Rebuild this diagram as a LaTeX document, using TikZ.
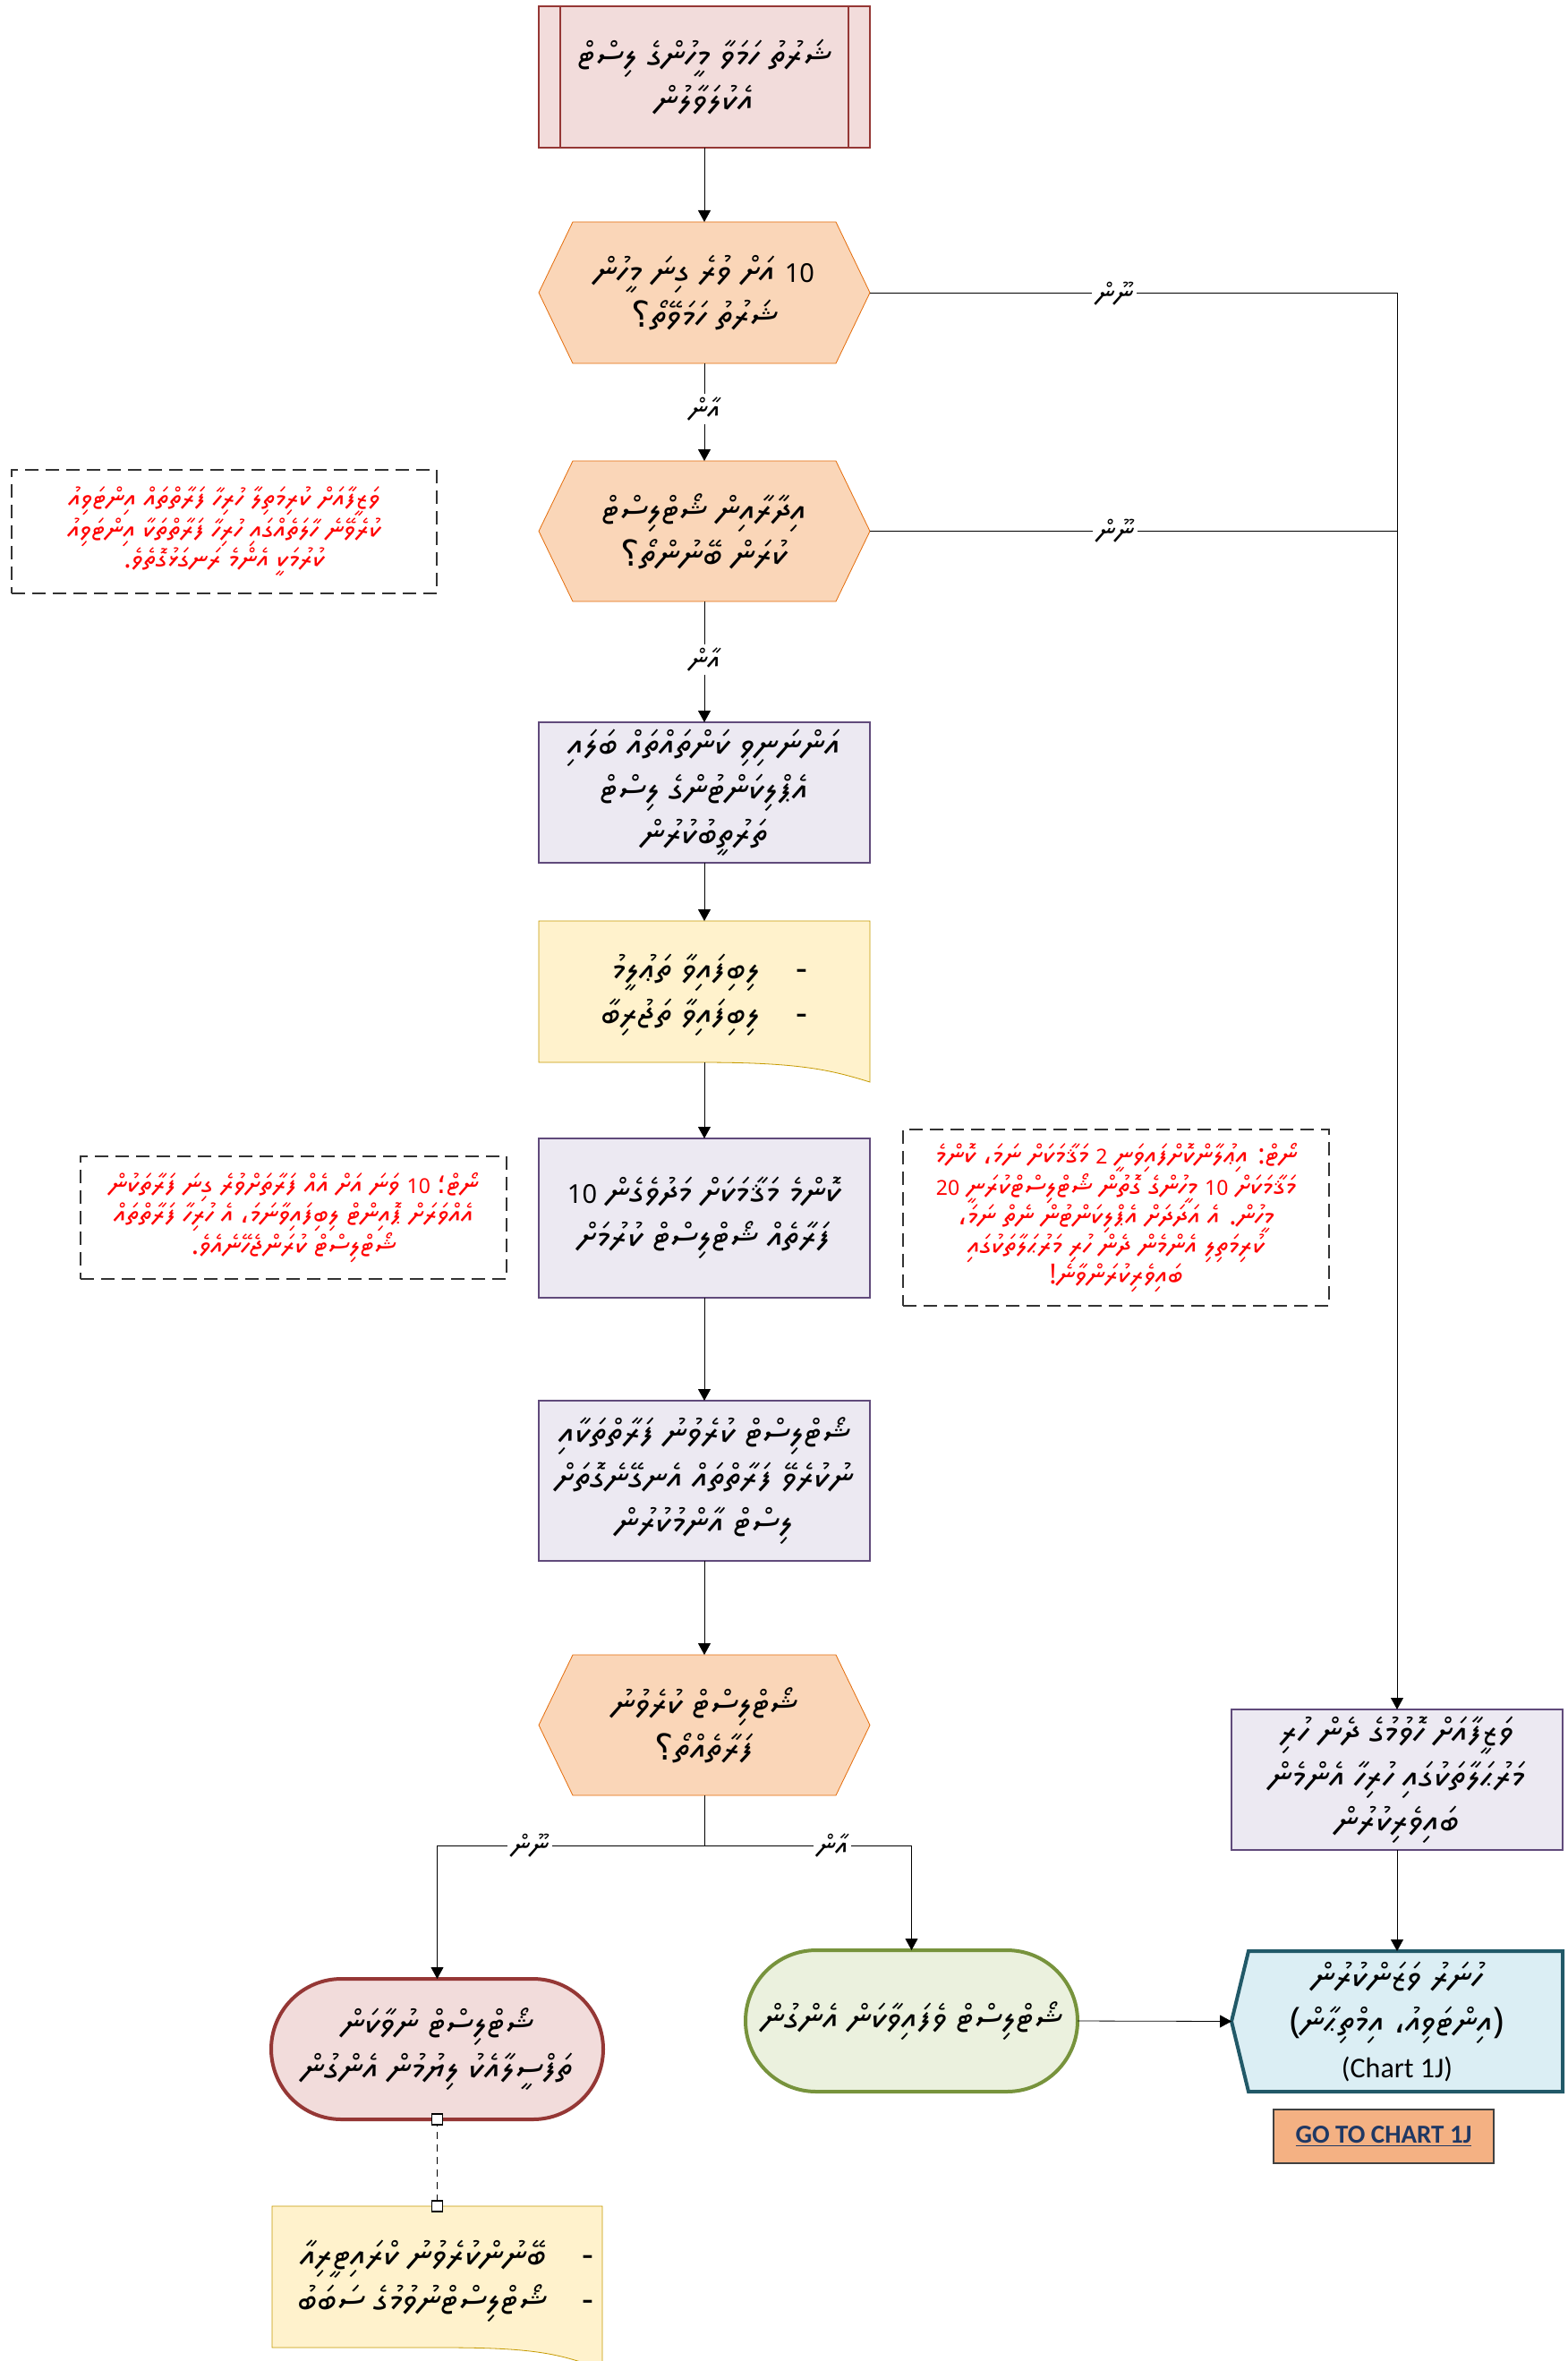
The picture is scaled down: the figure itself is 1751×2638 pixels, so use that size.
\documentclass[tikz,border=0pt]{standalone}
\usepackage{fontspec}
\usetikzlibrary{arrows.meta,shapes.misc,calc}
\TeXXeTstate=1
\IfFontExistsTF{FreeSerif.otf}
 {\newfontfamily\tf{FreeSerif.otf}}
 {\IfFontExistsTF{Noto Sans Thaana}
   {\newfontfamily\tf{Noto Sans Thaana}}
   {\newfontfamily\tf{DejaVu Sans}}}
\newfontfamily\arf{DejaVu Sans}
\newfontfamily\carl{Carlito}
\newcommand{\T}[1]{\beginR#1\endR}
\newcommand{\Q}{{\arf ؟}}
\newcommand{\Cm}{{\arf ،}}
\newcommand{\Sc}{{\arf ؛}}
\newcommand{\Nn}[1]{{\fontsize{14.5}{25}\selectfont #1}}
\newcommand{\Nc}[1]{{\fontsize{11.5}{16.5}\selectfont #1}}
\definecolor{pinkF}{HTML}{F2DCDB}
\definecolor{pinkD}{HTML}{953735}
\definecolor{hexF}{HTML}{FAD6B8}
\definecolor{hexD}{HTML}{E46C0A}
\definecolor{procF}{HTML}{ECE9F2}
\definecolor{procD}{HTML}{604A7B}
\definecolor{docF}{HTML}{FFF2CC}
\definecolor{docD}{HTML}{C59A00}
\definecolor{grnF}{HTML}{EBF1DE}
\definecolor{grnD}{HTML}{77933C}
\definecolor{bluF}{HTML}{DBEEF4}
\definecolor{bluD}{HTML}{215968}
\definecolor{btnF}{HTML}{F4B183}
\definecolor{btnT}{HTML}{1F3864}
\definecolor{cmtD}{HTML}{333333}
\pgfdeclarelayer{bg}
\pgfsetlayers{bg,main}
\begin{document}
\begin{tikzpicture}[x=0.5pt,y=-0.5pt,line width=1pt,
  every node/.style={inner sep=0pt,outer sep=0pt},
  tx/.style={font=\tf\fontsize{20}{25}\selectfont,align=center},
  ctx/.style={font=\tf\fontsize{15.5}{16.5}\selectfont,align=center,text=red},
  slot/.style={tx,minimum width=185pt,minimum height=#1},
  proc/.style={slot=#1,draw=procD,fill=procF},
  cmt/.style={ctx,draw=cmtD,dashed,dash pattern=on 7.5pt off 4pt,line width=1pt},
  lbl/.style={font=\tf\fontsize{16}{18}\selectfont,fill=white,inner sep=2pt},
  arr/.style={-{Triangle[length=6.5pt,width=7pt]}},
  hexbg/.style={draw=hexD,fill=hexF},
  docbg/.style={draw=docD,fill=docF}]
\useasboundingbox (0,0) rectangle (1751,2638);

% main column
\node[slot=79pt,draw=pinkD,fill=pinkF,minimum width=185pt] (n1) at (787,86)
  {\T{ޝަރުތު ހަމަވާ މީހުންގެ ލިސްޓް}\\\T{އެކުލަވާލުން}};
\draw[pinkD] ($(n1.north west)+(24,0)$) -- ($(n1.south west)+(24,0)$);
\draw[pinkD] ($(n1.north east)+(-24,0)$) -- ($(n1.south east)+(-24,0)$);

\node[slot=79pt] (n2) at (787,327)
  {\T{\Nn{10} އަށް ވުރެ ގިނަ މީހުން}\\\T{ޝަރުތު ހަމަވޭތޯ\Q}};
\node[slot=78.5pt] (n3) at (787,593.5)
  {\T{އިދާރާއިން ޝޯޓްލިސްޓް}\\\T{ކުރަން ބޭނުންތޯ\Q}};
\node[proc=78.5pt] (n4) at (787,885.5)
  {\T{އަންނަނިވި ކަންތައްތައް ބަލައި}\\\T{އެޕްލިކަންޓުންގެ ލިސްޓް}\\\T{ތަރުތީބުކުރުން}};
\node[slot=79pt,align=right] (n5) at (787,1112)
  {\T{-\quad ލިބިފައިވާ ތަޢުލީމު}\\\T{-\quad ލިބިފައިވާ ތަޖުރިބާ}};
\node[proc=89pt] (n6) at (787,1361)
  {\T{ކޮންމެ މަޤާމަކަށް މަދުވެގެން \Nn{10}}\\\T{ފަރާތެއް ޝޯޓްލިސްޓް ކުރުމަށް}};
\node[proc=89.5pt] (n7) at (787,1654.5)
  {\T{ޝޯޓްލިސްޓް ކުރެވުނު ފަރާތްތަކާއި}\\\T{ނުކުރެވޭ ފަރާތްތައް އެނގޭނެގޮތަށް}\\\T{ލިސްޓް އާންމުކުރުން}};
\node[slot=78.5pt] (n8) at (787,1927.5)
  {\T{ޝޯޓްލިސްޓް ކުރެވުނު}\\\T{ފަރާތެއްތޯ\Q}};

% bottom
\node[tx,rounded rectangle,draw=pinkD,fill=pinkF,line width=2pt,minimum width=185.5pt,minimum height=78.5pt] (n9) at (488.5,2289.5)
  {\T{ޝޯޓްލިސްޓް ނުވާކަން}\\\T{ތަފްސީލާއެކު ލިޔުމުން އެންގުން}};
\node[tx,rounded rectangle,draw=grnD,fill=grnF,line width=2pt,minimum width=185.5pt,minimum height=79pt] (n10) at (1018.5,2258)
  {\T{ޝޯޓްލިސްޓް ވެފައިވާކަން އެންގުން}};
\node[slot=79pt,minimum width=184.5pt,align=right] (n14) at (498,2549)
  {\T{-\quad ބޭނުންކުރެވުނު ކްރައިޓީރިއާ}\\\T{-\quad ޝޯޓްލިސްޓްނުވުމުގެ ސަބަބު}};
\coordinate (n14nw) at (304,2465);
\coordinate (n14ne) at (673,2465);

% right column
\node[proc=78.5pt] (n11) at (1561,1988.5)
  {\T{ވަޒީފާއަށް ހޮވުމުގެ ދެން ހުރި}\\\T{މަރުޙަލާތަކުގައި ހުރިހާ އެންމެން}\\\T{ބައިވެރިކުރުން}};
\node[slot=78.5pt] (n12) at (1561,2258.5)
  {\T{ހުނަރު ވަޒަންކުރުން}\\\T{)\kern0pt އިންޓަވިއު\Cm{} އިމްތިޙާން\kern0pt(}\\{\carl\fontsize{16}{25}\selectfont (Chart 1J)}};
\node[draw=black!75,fill=btnF,minimum width=123pt,minimum height=30pt,font=\carl\bfseries\fontsize{14.5}{16}\selectfont,text=btnT] (btn) at (1546,2387)
  {\underline{GO TO CHART 1J}};

% comments
\node[cmt,minimum width=237.5pt,minimum height=69pt] (c1) at (250.5,594)
  {\T{ވަޒީފާއަށް ކުރިމަތިލާ ހުރިހާ ފަރާތްތައް އިންޓަވިއު}\\\T{ކުރެވޭނެ ހާލަތެއްގައި ހުރިހާ ފަރާތްތަކާ އިންޓަވިއު}\\\T{ކުރުމަކީ އެންމެ ރަނގަޅުގޮތެވެ\kern0pt.}};
\node[cmt,minimum width=238pt,minimum height=68.5pt] (c2) at (328,1360.5)
  {\T{ނޯޓް\Sc{} \Nc{10} ވަނަ އަށް އެއް ފަރާތަށްވުރެ ގިނަ ފަރާތަކުން}\\\T{އެއްވަރަށް ޕޮއިންޓް ލިބިފައިވާނަމަ\Cm{} އެ ހުރިހާ ފަރާތްތައް}\\\T{ޝޯޓްލިސްޓް ކުރަންޖެހޭނެއެވެ\kern0pt.}};
\node[cmt,minimum width=238pt,minimum height=98.5pt] (c3) at (1247,1360.5)
  {\T{ނޯޓް\kern0pt: އިޢުލާންކޮށްފައިވަނީ \Nc{2} މަޤާމަކަށް ނަމަ\Cm{} ކޮންމެ}\\\T{މަޤާމަކަށް \Nc{10} މީހުންގެ ގޮތުން ޝޯޓްލިސްޓްކުރަނީ \Nc{20}}\\\T{މީހުން\kern0pt. އެ އަދަދަށް އެޕްލިކަންޓުން ނެތް ނަމަ\Cm}\\\T{ކުރިމަތިލި އެންމެން ދެން ހުރި މަރުޙަލާތަކުގައި}\\\T{ބައިވެރިކުރަންވާނެ\kern0pt!}};

% background shapes
\begin{pgfonlayer}{bg}
\fill[white] (0,0) rectangle (1751,2638);
\foreach \h in {n2,n3,n8}{
  \filldraw[hexbg] (\h.west) -- ($(\h.north west)+(38,0)$) -- ($(\h.north east)+(-38,0)$)
    -- (\h.east) -- ($(\h.south east)+(-38,0)$) -- ($(\h.south west)+(38,0)$) -- cycle;}
\filldraw[docbg] (602,1029) -- (972,1029) -- (972,1209)
  .. controls (927,1195) and (892,1187) .. (782,1187) -- (602,1187) -- cycle;
\filldraw[docbg] (n14nw) -- (n14ne) -- (673,2647)
  .. controls (628,2632) and (607,2623) .. (497,2623) -- (304,2623) -- cycle;
\filldraw[draw=bluD,fill=bluF,line width=2pt] (n12.west) -- ($(n12.north west)+(19,0)$) -- (n12.north east)
  -- (n12.south east) -- ($(n12.south west)+(19,0)$) -- cycle;
\end{pgfonlayer}

% connectors
\coordinate (sp) at (787,2062);
\coordinate (n5top) at (787,1029);
\coordinate (n5bot) at (787,1187);
\coordinate (n14top) at (488.5,2465);
\draw[arr] (n1.south) -- (n2.north);
\draw[arr] (n2.south) -- (n3.north);
\draw[arr] (n3.south) -- (n4.north);
\draw[arr] (n4.south) -- (n5top);
\draw[arr] (n5bot) -- (n6.north);
\draw[arr] (n6.south) -- (n7.north);
\draw[arr] (n7.south) -- (n8.north);
\draw (n8.south) -- (sp);
\draw[arr] (sp) -| (n9.north);
\draw[arr] (sp) -| (n10.north);
\draw[arr] (n2.east) -| (n11.north);
\draw (n3.east) -- (n3.east -| n11.north);
\draw[arr] (n11.south) -- (n12.north);
\draw[arr] (n10.east) -- (n12.west);
\draw[dashed,line width=0.8pt,dash pattern=on 4pt off 3pt] (n9.south) -- (n14top);
\node[draw,fill=white,line width=0.7pt,minimum size=6pt] (sq1) at (n9.south) {};
\node[draw,fill=white,line width=0.7pt,minimum size=6pt] (sq2) at (n14top) {};

% labels
\node[lbl] (l1) at (1245,328) {\T{ނޫން}};
\node[lbl] (l2) at (1246,593) {\T{ނޫން}};
\node[lbl] (l3) at (787,457) {\T{އާން}};
\node[lbl] (l4) at (787,737) {\T{އާން}};
\node[lbl] (l5) at (592,2062) {\T{ނޫން}};
\node[lbl] (l6) at (930,2062) {\T{އާން}};
\end{tikzpicture}
\end{document}
